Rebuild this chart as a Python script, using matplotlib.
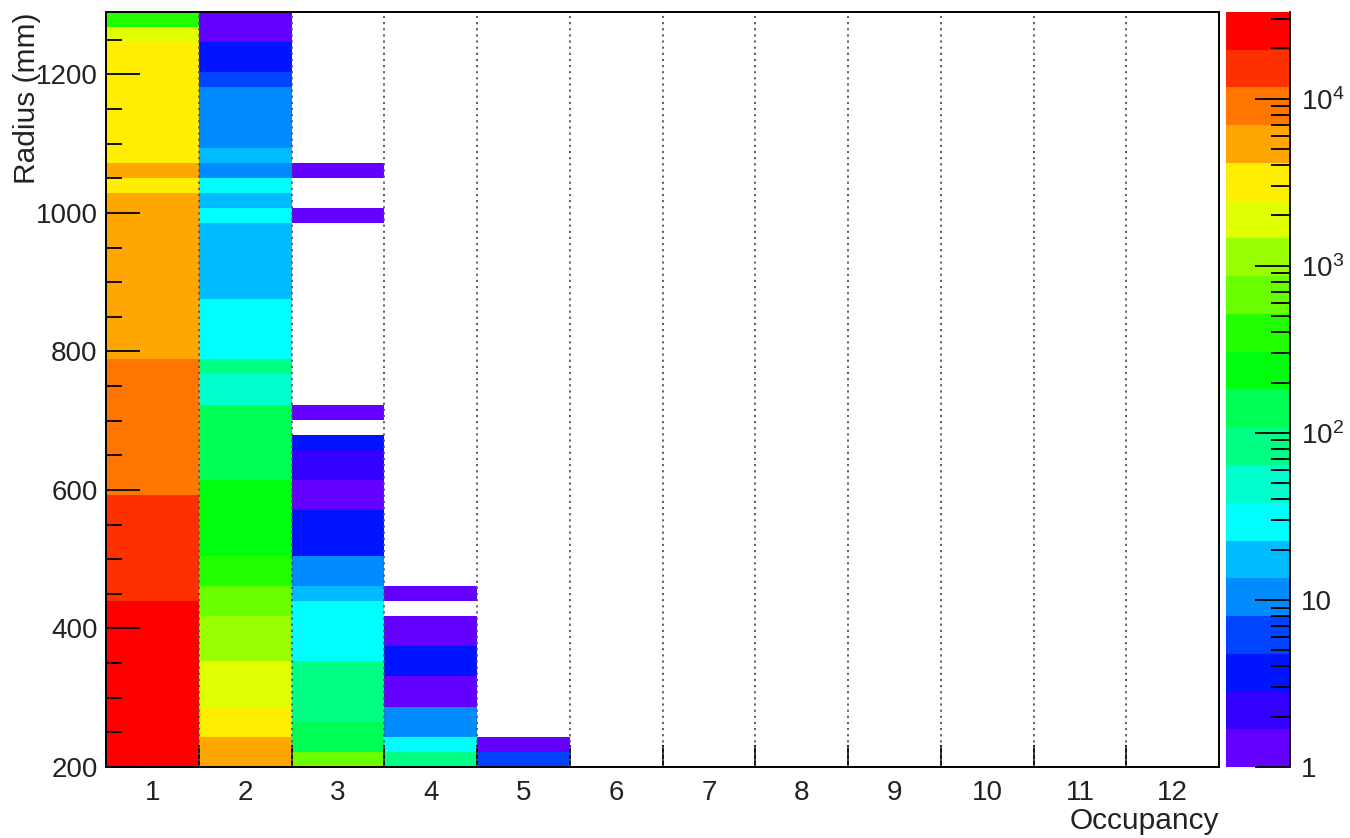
import colorsys
import numpy as np
import matplotlib
matplotlib.use('Agg')
import matplotlib.pyplot as plt
from matplotlib.colors import ListedColormap, BoundaryNorm
from matplotlib.ticker import FixedLocator, FuncFormatter, MultipleLocator, LogLocator, NullFormatter

plt.rcParams['font.family'] = ['Liberation Sans', 'DejaVu Sans']
plt.rcParams['mathtext.fontset'] = 'custom'
plt.rcParams['mathtext.rm'] = 'Liberation Sans'
plt.rcParams['mathtext.it'] = 'Liberation Sans:italic'

# Binning of the 2D histogram
occupancy = list(range(1, 13))
r_min, r_max, n_rbins = 200, 1290, 50
z_min, z_max = 1, 33000
n_levels = 20

# Entries per radius bin (bottom -> top), one list per occupancy value
occ1 = [32500, 31000, 30000, 29000, 28000, 27500, 27000, 26000, 25000, 24000, 23000,
        19000, 18000, 17000, 16000, 15000, 14000, 13000,
        11000, 10500, 10000, 9500, 9000, 8800, 8500, 8000, 7500,
        6800, 6500, 6300, 6000, 5800, 5600, 5400, 5200, 5000, 4800, 4600,
        4000, 4500,
        3900, 3800, 3700, 3600, 3500, 3400, 3300, 3200,
        2000, 400]
occ2 = [5000, 4500, 3500, 3000, 2300, 2000, 1700, 1400, 1200, 1000, 800, 650, 480, 420,
        300, 280, 260, 240, 200, 180, 160, 150, 130, 115, 60, 55, 70, 35, 32, 30, 28,
        20, 18, 17, 16, 15, 25, 16, 24, 11, 14, 12, 11, 10, 9, 6, 4, 3, 1, 1]
occ3 = ([600, 150, 130, 100, 90, 80, 70, 36, 33, 30, 26, 16, 10, 9, 4, 4, 3, 1, 1, 2, 2, 3, 0, 1]
        + [0] * 12 + [1] + [0, 0] + [1] + [0] * 10)
occ4 = [80, 30, 10, 9, 1, 1, 3, 3, 1, 1, 0, 1] + [0] * 38
occ5 = [5, 1] + [0] * 48
empty = [0] * 50

counts = np.array([occ1, occ2, occ3, occ4, occ5] + [empty] * 7, dtype=float).T

# ROOT "pretty" palette (violet -> red), 50 colours, sampled for 20 contours
def root_palette(n_levels, n_colors=50):
    cols = []
    for k in range(n_levels):
        i = int((k + 0.99) * n_colors / n_levels)
        hue = max(280 - (i + 1) * 280.0 / n_colors, 0)
        cols.append(colorsys.hls_to_rgb(hue / 360.0, 0.5, 1.0))
    return cols

colors = root_palette(n_levels)
cmap = ListedColormap(colors)
cmap.set_over(colors[-1])
bounds = np.logspace(np.log10(z_min), np.log10(z_max), n_levels + 1)
norm = BoundaryNorm(bounds, n_levels)

x_edges = np.arange(0.5, len(occupancy) + 1, 1.0)
y_edges = np.linspace(r_min, r_max, n_rbins + 1)

fig = plt.figure(figsize=(13.5, 8.38), dpi=100)
ax = fig.add_axes([106 / 1350, 71 / 838, 1113 / 1350, 755 / 838])
cax = fig.add_axes([1226 / 1350, 71 / 838, 64 / 1350, 755 / 838])

ax.pcolormesh(x_edges, y_edges, np.ma.masked_less_equal(counts, 0), cmap=cmap, norm=norm, zorder=1)
ax.vlines(x_edges[1:-1], r_min, r_max, colors='#555555', linestyles=(0, (1.2, 2.2)),
          linewidth=1.3, zorder=3)

ax.set_xlim(0.5, len(occupancy) + 0.5)
ax.set_ylim(r_min, r_max)
for s in ax.spines.values():
    s.set_linewidth(1.4)
    s.set_zorder(4)

label_size = 20
title_size = 21.5

ax.xaxis.set_major_locator(FixedLocator(occupancy))
ax.xaxis.set_minor_locator(FixedLocator(x_edges[1:-1]))
ax.tick_params(axis='x', which='major', length=0, labelsize=label_size, pad=9, labelcolor='#222222')
ax.tick_params(axis='x', which='minor', direction='in', length=16, width=1.3)
ax.yaxis.set_major_locator(MultipleLocator(200))
ax.yaxis.set_minor_locator(MultipleLocator(50))
ax.tick_params(axis='y', which='major', direction='in', length=24.5, width=1.3,
               labelsize=label_size, pad=6, labelcolor='#222222')
ax.tick_params(axis='y', which='minor', direction='in', length=11.5, width=1.3)

fig.text(27 / 1350, 1 - 12 / 838, 'Radius (mm)', rotation=90, ha='center', va='top',
         fontsize=title_size, color='#222222')
fig.text(1219 / 1350, 1 - 835 / 838, 'Occupancy', ha='right', va='bottom',
         fontsize=title_size, color='#222222')

# colour scale
mids = np.sqrt(bounds[:-1] * bounds[1:])
cax.pcolormesh([0, 1], bounds, mids.reshape(-1, 1), cmap=cmap, norm=norm)
cax.set_yscale('log')
cax.set_ylim(z_min, z_max)
cax.set_xlim(0, 1)
cax.set_xticks([])
for side in ['top', 'left', 'bottom']:
    cax.spines[side].set_visible(False)
cax.spines['right'].set_linewidth(1.3)
cax.yaxis.tick_right()
cax.yaxis.set_major_locator(LogLocator(base=10))
cax.yaxis.set_minor_locator(LogLocator(base=10, subs=range(2, 10)))
cax.yaxis.set_minor_formatter(NullFormatter())
cax.yaxis.set_major_formatter(FuncFormatter(
    lambda v, p: str(int(round(v))) if v < 100 else r'$\mathdefault{10^{%d}}$' % round(np.log10(v))))
cax.tick_params(axis='y', which='major', direction='in', length=25, width=1.3,
                labelsize=label_size, pad=8, labelcolor='#222222')
cax.tick_params(axis='y', which='minor', direction='in', length=14, width=1.3)

fig.savefig('out.png', dpi=100)
